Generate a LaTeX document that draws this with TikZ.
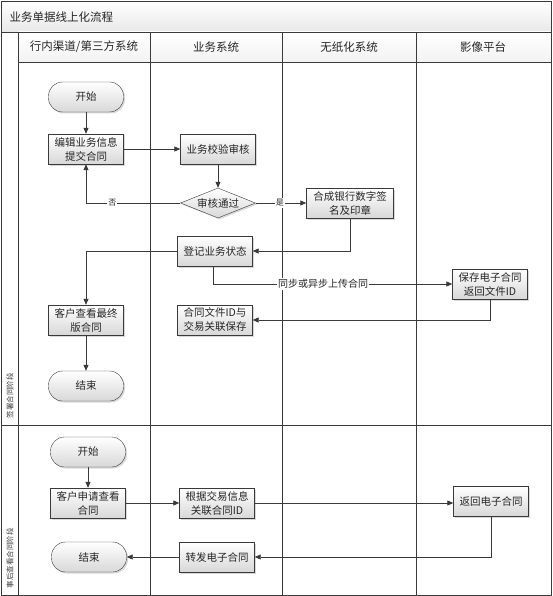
\documentclass[tikz,border=0pt]{standalone}
\usepackage{fontspec}
\setmainfont{Noto Sans CJK SC}
\usetikzlibrary{shapes.geometric,arrows.meta,positioning,shadows}
\definecolor{linegray}{HTML}{3A3A3A}
\definecolor{boxgray}{HTML}{D8D8D8}

\tikzset{
  proc/.style={draw=linegray, top color=white, bottom color=boxgray,
    minimum width=75pt, minimum height=30pt, align=center, inner sep=2pt,
    text=black!85, font=\fontsize{10.5}{14}\selectfont,
    drop shadow={shadow xshift=1.5pt,shadow yshift=-1.5pt,opacity=0.3}},
  term/.style={proc, rounded corners=14pt},
  decide/.style={proc, diamond, aspect=2.5, inner sep=0pt},
  flow/.style={draw=linegray, line width=0.8pt, -{Triangle[length=6pt,width=5pt]}},
  lbl/.style={fill=white, inner sep=1pt, text=black!85, font=\fontsize{8}{9}\selectfont},
  lane/.style={draw=linegray, line width=0.8pt},
}

\begin{document}
\begin{tikzpicture}[x=1pt,y=-1pt]
    \useasboundingbox (0,0) rectangle (552,596);
    % Title bar and column headers
    \fill[top color=white, bottom color=gray!18] (1,1) rectangle (551,32);
    \fill[top color=white, bottom color=gray!10] (18,32) rectangle (551,62);
    \node[anchor=west, text=black!85, font=\fontsize{11.5}{14}\selectfont] (title) at (6,17) {业务单据线上化流程};
    \foreach \h/\cx in {{行内渠道/第三方系统}/84, 业务系统/216, 无纸化系统/349, 影像平台/483}
      \node[text=black!85, font=\fontsize{11.5}{14}\selectfont] at (\cx,47) {\h};
    % Lanes
    \draw[lane] (1,1) rectangle (551,595);
    \draw[lane] (1,32) -- (551,32);
    \draw[lane] (18,62) -- (551,62);
    \draw[lane] (18,32) -- (18,595);
    \foreach \x in {150,282,416}
      \draw[lane] (\x,32) -- (\x,595);
    \draw[lane] (1,425) -- (551,425);
    \node[rotate=90, anchor=west, text=black!75, font=\fontsize{7.5}{8}\selectfont] at (10,422) {签署合同阶段};
    \node[rotate=90, anchor=west, text=black!75, font=\fontsize{7.5}{8}\selectfont] at (10,592) {事后查看合同阶段};

    % Signing stage
    \node[term] (start1) at (86,97) {开始};
    \node[proc] (edit) at (86,149) {编辑业务信息\\提交合同};
    \node[proc] (check) at (218,149) {业务校验审核};
    \node[decide] (pass) at (218,203) {审核通过};
    \node[proc, minimum width=87pt] (sign) at (350,203) {合成银行数字签\\名及印章};
    \node[proc] (record) at (215,251) {登记业务状态};
    \node[proc] (save) at (490,284) {保存电子合同\\返回文件ID};
    \node[proc] (view) at (86,320) {客户查看最终\\版合同};
    \node[proc] (link) at (215,320) {合同文件ID与\\交易关联保存};
    \node[term] (end1) at (86,386) {结束};

    \draw[flow] (start1) -- (edit);
    \draw[flow] (edit) -- (check);
    \draw[flow] (check) -- (pass);
    \draw[flow] (pass.west) -| node[lbl, pos=0.36] {否} (edit.south);
    \draw[flow] (pass) -- node[lbl, pos=0.48] {是} (sign);
    \draw[flow] (sign.south) |- (record.east);
    \draw[flow] (record.west) -| (view.north);
    \draw[flow] ([xshift=-2pt]record.south) |- node[lbl, pos=0.73, font=\fontsize{10}{11}\selectfont] {同步或异步上传合同} (save.west);
    \draw[flow] (save.south) |- (link.east);
    \draw[flow] (view) -- (end1);

    % Viewing stage
    \node[term] (start2) at (88,452) {开始};
    \node[proc] (apply) at (88,503) {客户申请查看\\合同};
    \node[proc] (assoc) at (217,503) {根据交易信息\\关联合同ID};
    \node[proc] (back) at (491,501) {返回电子合同};
    \node[proc] (fwd) at (217,557) {转发电子合同};
    \node[term] (end2) at (89,557) {结束};

    \draw[flow] (start2) -- (apply);
    \draw[flow] (apply) -- (assoc);
    \draw[flow] (assoc.east) -- (assoc.east -| back.west);
    \draw[flow] (back.south) |- (fwd.east);
    \draw[flow] (fwd) -- (end2);
\end{tikzpicture}
\end{document}
